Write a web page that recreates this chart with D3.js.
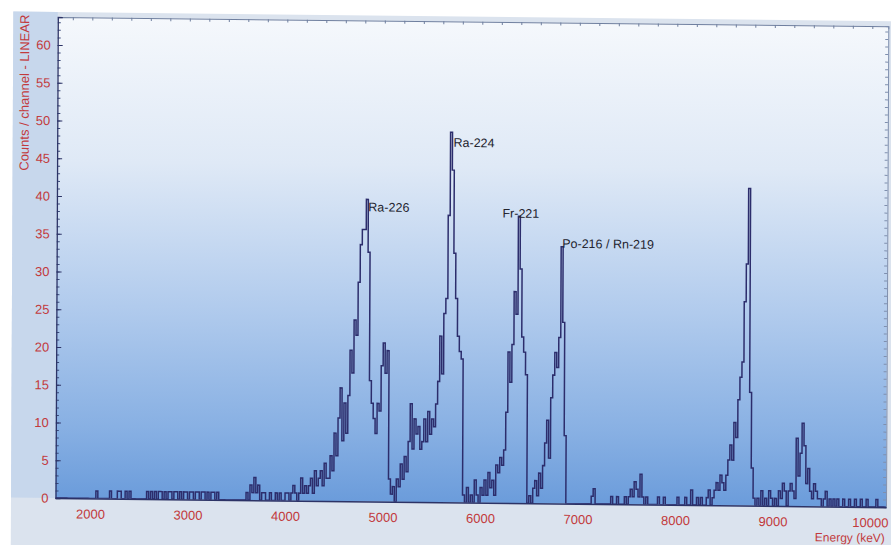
<!DOCTYPE html>
<html>
<head>
<meta charset="utf-8">
<script src="https://cdn.jsdelivr.net/npm/d3@7"></script>
<style>
  html, body { margin: 0; padding: 0; background: #ffffff; }
  svg { display: block; }
  text { font-family: "Liberation Sans", Arial, sans-serif; }
</style>
</head>
<body>
<svg id="chart" width="891" height="545"></svg>
<script>
// Alpha spectrum, counts per 20 keV channel, first channel at 1640 keV
const channelStart = 1640;
const channelWidth = 20;
const counts = [
  0, 0, 0, 0, 0, 0, 0, 0, 0, 0,      // 1640
  0, 0, 0, 0, 0, 0, 0, 0, 0, 0,      // 1840
  0, 1, 0, 0, 0, 0, 0, 0, 1, 0,      // 2040
  0, 0, 1, 1, 0, 0, 1, 0, 1, 0,      // 2240
  0, 0, 0, 0, 0, 0, 0, 1, 0, 1,      // 2440
  0, 1, 0, 1, 1, 0, 1, 0, 1, 1,      // 2640
  0, 1, 1, 0, 1, 0, 1, 1, 0, 1,      // 2840
  1, 0, 1, 1, 0, 1, 1, 0, 1, 0,      // 3040
  1, 1, 0, 1, 0, 0, 0, 0, 0, 0,      // 3240
  0, 0, 0, 0, 0, 0, 0, 0, 1, 0,      // 3440
  2, 1, 3, 1, 2, 0, 1, 1, 0, 0,      // 3640
  1, 0, 0, 1, 0, 1, 0, 0, 1, 1,      // 3840
  0, 1, 2, 1, 0, 1, 3, 1, 2, 1,      // 4040
  2, 3, 1, 4, 2, 3, 4, 2, 5, 3,      // 4240
  3, 6, 4, 9, 6, 11, 15, 8, 13, 9,   // 4440
  14, 20, 17, 24, 22, 29, 34, 36, 36, 40, // 4640
  33, 16, 13, 11, 9, 13, 12, 18, 21, 17,  // 4840
  20, 3, 1, 2, 0, 3, 2, 5, 3, 6,     // 5040
  4, 8, 13, 7, 11, 9, 10, 7, 8, 11,  // 5240
  8, 12, 9, 11, 10, 13, 16, 22, 17, 25,   // 5440
  27, 38, 49, 44, 33, 27, 22, 20, 19, 1,  // 5640
  0, 2, 0, 1, 0, 3, 1, 0, 2, 1,      // 5840
  3, 1, 4, 2, 3, 1, 5, 4, 6, 5,      // 6040
  7, 12, 20, 16, 21, 28, 25, 38, 31, 22,  // 6240
  20, 17, 0, 1, 0, 2, 3, 1, 4, 2,    // 6440
  5, 8, 11, 6, 14, 17, 20, 18, 22, 34,    // 6640
  24, 9, 0, 0, 0, 0, 0, 0, 0, 0,     // 6840
  0, 0, 0, 0, 0, 1, 2, 0, 0, 0,      // 7040
  0, 0, 0, 0, 0, 1, 0, 0, 1, 0,      // 7240
  0, 0, 1, 0, 1, 2, 1, 3, 2, 1,      // 7440
  4, 1, 0, 1, 0, 0, 0, 0, 0, 1,      // 7640
  0, 0, 1, 0, 0, 0, 0, 0, 0, 1,      // 7840
  0, 0, 0, 1, 0, 0, 2, 0, 0, 1,      // 8040
  0, 1, 0, 0, 1, 2, 0, 1, 2, 3,      // 8240
  2, 4, 3, 2, 4, 6, 8, 6, 11, 9,     // 8440
  14, 17, 19, 27, 32, 42, 15, 5, 1, 0,    // 8640
  1, 0, 2, 0, 1, 0, 2, 1, 0, 1,      // 8840
  0, 2, 1, 3, 2, 0, 2, 3, 2, 1,      // 9040
  9, 4, 7, 11, 8, 3, 5, 2, 1, 3,     // 9240
  2, 1, 1, 0, 1, 2, 0, 1, 0, 1,      // 9440
  0, 1, 0, 0, 1, 0, 0, 1, 0, 0,      // 9640
  1, 0, 0, 1, 0, 0, 1, 0, 0, 0,      // 9840
  0, 1, 0, 0, 0, 0                   // 10040
];

const energyTicks = [2000, 3000, 4000, 5000, 6000, 7000, 8000, 9000, 10000];
const countTicks = [0, 5, 10, 15, 20, 25, 30, 35, 40, 45, 50, 55, 60];

// Nuclide labels placed at the top of their peak channels
const peakNames = ["Ra-226", "Ra-224", "Fr-221", "Po-216 / Rn-219"];
const peakEnergies = [4820, 5680, 6380, 6820];

const xTitle = "Energy (keV)";
const yTitle = "Counts / channel - LINEAR";

// ---- layout ----
const plot = { left: 55.5, right: 886, top: 17, bottom: 498 };
const labelOffsets = [[2, 12], [3, 14.5], [-16, 1.5], [1, 1]];
const tickRed = "#c23a3c";
const traceColor = "#2c2d6c";

const svg = d3.select("#chart");
const defs = svg.append("defs");

const grad = defs.append("linearGradient")
  .attr("id", "plotFill").attr("x1", 0).attr("y1", 0).attr("x2", 0).attr("y2", 1);
[[0, "#f5f8fc"], [0.3, "#dfe9f6"], [0.6, "#b1cbed"], [0.85, "#88b0e3"], [1, "#6b9cdb"]]
  .forEach(([o, c]) => grad.append("stop").attr("offset", o).attr("stop-color", c));

defs.append("clipPath").attr("id", "plotClip")
  .append("rect")
  .attr("x", plot.left).attr("y", plot.top)
  .attr("width", plot.right - plot.left).attr("height", plot.bottom - plot.top);

svg.append("rect").attr("width", 891).attr("height", 545).attr("fill", "#ffffff");

// whole panel sits slightly skewed on the page
const scene = svg.append("g")
  .attr("transform",
    `translate(${plot.left},${plot.bottom}) matrix(1,0.011,-0.0048,1,0,0) translate(${-plot.left},${-plot.bottom})`);

scene.append("rect")
  .attr("x", 11).attr("y", 12).attr("width", 900).attr("height", 560)
  .attr("fill", "#dbe3ee");
scene.append("rect")
  .attr("x", 11).attr("y", 12).attr("width", plot.left - 11).attr("height", plot.bottom - 12)
  .attr("fill", "#c7d7ec");
scene.append("rect")
  .attr("x", plot.left).attr("y", plot.top)
  .attr("width", plot.right - plot.left).attr("height", plot.bottom - plot.top)
  .attr("fill", "url(#plotFill)");

// ---- scales ----
const x = d3.scaleLinear().domain([1646, 10164]).range([plot.left, plot.right]);
const y = d3.scaleLinear().domain([0, 63.7]).range([plot.bottom, plot.top]);

// ---- frame ticks (top and right, inward) ----
const minorEnergies = d3.range(1800, 10164, 200);
const minorCounts = d3.range(0, 64, 1);

scene.append("g")
  .attr("transform", `translate(0,${plot.top})`)
  .call(d3.axisTop(x).tickValues(minorEnergies).tickSize(-3).tickFormat(""))
  .call(g => g.select(".domain").attr("stroke", "#6f7f9f"))
  .call(g => g.selectAll(".tick line").attr("stroke", "#6f7f9f"));

scene.append("g")
  .attr("transform", `translate(${plot.right},0)`)
  .call(d3.axisRight(y).tickValues(minorCounts).tickSize(-3).tickFormat(""))
  .call(g => g.select(".domain").attr("stroke", "#7f8fae"))
  .call(g => g.selectAll(".tick line").attr("stroke", "#7f8fae"));

// ---- left axis ----
scene.append("g")
  .attr("transform", `translate(${plot.left},0)`)
  .call(d3.axisLeft(y).tickValues(minorCounts).tickSize(-3).tickFormat(""))
  .call(g => g.select(".domain").remove())
  .call(g => g.selectAll(".tick line").attr("stroke", "#3a4a7a"));

scene.append("g")
  .attr("transform", `translate(${plot.left},0)`)
  .call(d3.axisLeft(y).tickValues(countTicks).tickSize(-5).tickPadding(7).tickFormat(d3.format("d")))
  .call(g => g.select(".domain").attr("stroke", "#2c3366").attr("stroke-width", 1.3))
  .call(g => g.selectAll(".tick line").attr("stroke", "#2c3366"))
  .call(g => g.selectAll(".tick text")
    .attr("fill", tickRed).attr("font-size", 13)
    .attr("font-family", "'Liberation Sans', Arial, sans-serif"));

// ---- bottom axis ----
scene.append("g")
  .attr("transform", `translate(0,${plot.bottom})`)
  .call(d3.axisBottom(x).tickValues(energyTicks).tickSize(0).tickPadding(11).tickFormat(d3.format("d")))
  .call(g => g.select(".domain").attr("stroke", "#2c3366").attr("stroke-width", 1.5))
  .call(g => g.selectAll(".tick text")
    .attr("fill", tickRed).attr("font-size", 13)
    .attr("font-family", "'Liberation Sans', Arial, sans-serif"));

// ---- spectrum trace ----
const points = counts.map((c, i) => [channelStart + i * channelWidth, c]);
points.push([x.domain()[1], counts[counts.length - 1]]);

const line = d3.line()
  .x(d => x(d[0]))
  .y(d => y(d[1]))
  .curve(d3.curveStepAfter);

scene.append("g").attr("clip-path", "url(#plotClip)")
  .append("path")
  .datum(points)
  .attr("fill", "none")
  .attr("stroke", traceColor)
  .attr("stroke-width", 1.5)
  .attr("stroke-linejoin", "miter")
  .attr("d", line);

// ---- peak labels ----
const peakIndex = e => Math.round((e - channelStart) / channelWidth);
scene.append("g")
  .selectAll("text")
  .data(peakNames)
  .join("text")
  .attr("x", (d, i) => x(peakEnergies[i]) + labelOffsets[i][0])
  .attr("y", (d, i) => y(counts[peakIndex(peakEnergies[i])]) + labelOffsets[i][1])
  .attr("font-size", 12.5)
  .attr("fill", "#23232e")
  .text(d => d);

// ---- axis titles ----
scene.append("text")
  .attr("transform", `translate(27,15) rotate(-90)`)
  .attr("text-anchor", "end")
  .attr("font-size", 13)
  .attr("fill", tickRed)
  .text(yTitle);

scene.append("text")
  .attr("x", plot.right - 1)
  .attr("y", 533)
  .attr("text-anchor", "end")
  .attr("font-size", 12)
  .attr("fill", tickRed)
  .text(xTitle);
</script>
</body>
</html>
